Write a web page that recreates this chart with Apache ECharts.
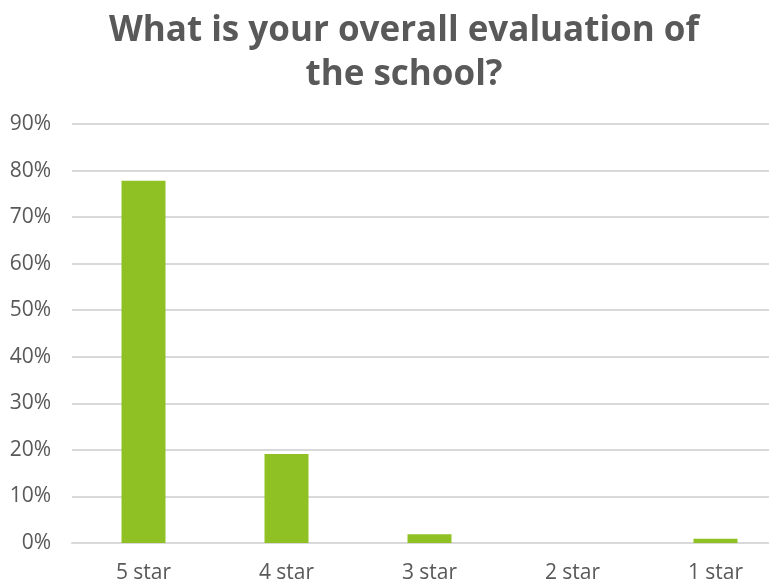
<!DOCTYPE html>
<html>
    <head>
        <meta charset="UTF-8">
        <title>ECharts</title>
        <script src="https://cdn.jsdelivr.net/npm/echarts@6/dist/echarts.min.js"></script>
    </head>
    <body style="margin:0; overflow:hidden;">
        <!-- the original chart is a bit wider than the window, its right edge is cut off -->
        <div id="main" style="width:808px; height:584px;"></div>
        <script>
            var chart = echarts.init(document.getElementById('main'));
            // data
            var categories = ['5 star', '4 star', '3 star', '2 star', '1 star'];
            var values = [77.8, 19.1, 1.9, 0, 0.9];
            var titleText = 'What is your overall evaluation of\nthe school?';

            var option = {
                animation: false,
                backgroundColor: '#ffffff',
                title: {
                    text: titleText,
                    left: 'center',
                    top: 4,
                    textStyle: {
                        fontFamily: 'Open Sans',
                        fontWeight: 'bold',
                        fontSize: 35,
                        lineHeight: 44,
                        color: '#595959'
                    }
                },
                grid: {
                    left: 72,
                    top: 124,
                    width: 715,
                    height: 419
                },
                xAxis: {
                    type: 'category',
                    data: categories,
                    axisLine: {lineStyle: {color: '#d9d9d9', width: 2}},
                    axisTick: {show: false},
                    axisLabel: {
                        color: '#595959',
                        fontFamily: 'Open Sans',
                        fontSize: 21,
                        margin: 20
                    }
                },
                yAxis: {
                    type: 'value',
                    min: 0,
                    max: 90,
                    interval: 10,
                    axisLine: {show: false},
                    axisTick: {show: false},
                    splitLine: {lineStyle: {color: '#d9d9d9', width: 2}},
                    axisLabel: {
                        color: '#595959',
                        fontFamily: 'Open Sans',
                        fontSize: 21,
                        margin: 21,
                        formatter: '{value}%'
                    }
                },
                series: [{
                    type: 'bar',
                    data: values,
                    barWidth: 44,
                    itemStyle: {color: '#8fc124'}
                }]
            };
            chart.setOption(option);
        </script>
    </body>
</html>
